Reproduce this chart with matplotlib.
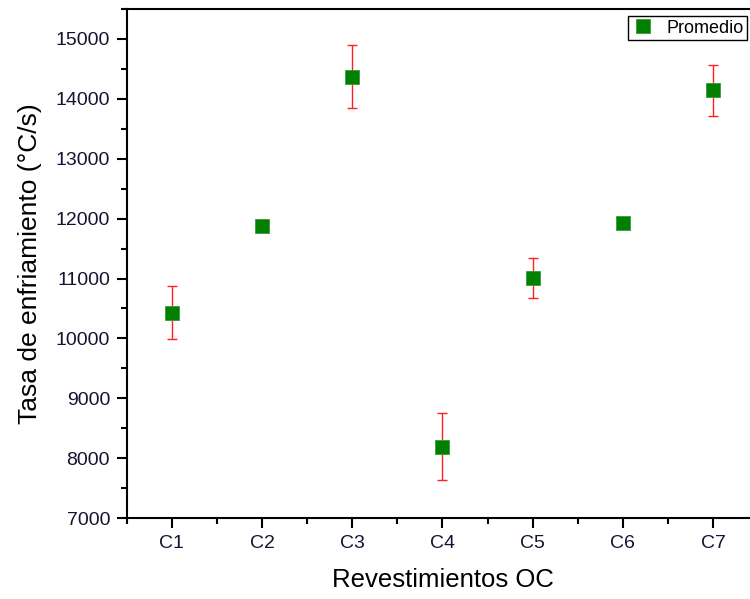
import matplotlib.pyplot as plt
from matplotlib.ticker import MultipleLocator

plt.rcParams['font.family'] = ['Liberation Sans', 'DejaVu Sans']

# datos: tasa de enfriamiento promedio y desviacion
categorias = ['C1', 'C2', 'C3', 'C4', 'C5', 'C6', 'C7']
promedio = [10430, 11870, 14370, 8190, 11010, 11930, 14140]
error = [440, 50, 530, 560, 340, 60, 420]

x = list(range(1, len(categorias) + 1))

fig = plt.figure(figsize=(7.5, 5.99), dpi=100)
ax = fig.add_axes([0.169, 0.135, 0.842, 0.85])

ax.errorbar(x, promedio, yerr=error, fmt='none', ecolor='#ff2020', elinewidth=1,
            capsize=3.8, capthick=1, zorder=2)
ax.plot(x, promedio, 's', color='#008000', markersize=9.5, markeredgecolor='#3a9a3a',
        markeredgewidth=0.6, linestyle='none', label='Promedio', zorder=3)

ax.set_xlim(0.5, 7.5)
ax.set_ylim(7000, 15500)
ax.set_xticks(x)
ax.set_xticklabels(categorias)
ax.xaxis.set_minor_locator(MultipleLocator(0.5))
ax.yaxis.set_major_locator(MultipleLocator(1000))
ax.yaxis.set_minor_locator(MultipleLocator(500))

for s in ax.spines.values():
    s.set_linewidth(1.5)
ax.tick_params(which='major', direction='out', length=7, width=1.5,
               labelsize=14, labelcolor='#141432', pad=5)
ax.tick_params(which='minor', direction='out', length=4, width=1.5)

ax.set_xlabel('Revestimientos OC', fontsize=18.5, labelpad=12)
ax.set_ylabel('Tasa de enfriamiento (°C/s)', fontsize=19, labelpad=10)

leg = ax.legend(loc='upper right', bbox_to_anchor=(0.996, 0.973),
                bbox_transform=fig.transFigure, borderaxespad=0,
                fontsize=13, fancybox=False, framealpha=1, edgecolor='black',
                handletextpad=0.7, borderpad=0.2, handlelength=1.2)
leg.get_frame().set_linewidth(1.0)

plt.savefig('out.png', dpi=100)
